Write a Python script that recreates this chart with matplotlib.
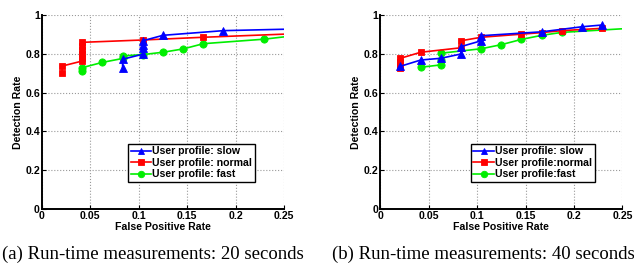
import matplotlib
matplotlib.use("Agg")
import matplotlib.pyplot as plt

# --- data (x = false positive rate, y = detection rate) ---
# points past x=0.25 only carry the line to the right edge (they get clipped)

# (a) 20 seconds
slow_20_x = [0.0833, 0.0833, 0.1042, 0.1042, 0.1042, 0.1042, 0.125, 0.1875, 0.2917]
slow_20_y = [0.724, 0.771, 0.797, 0.827, 0.846, 0.866, 0.894, 0.918, 0.930]
normal_20_x = [0.0208, 0.0208, 0.0417, 0.0417, 0.0417, 0.0417, 0.0417, 0.0417, 0.1042, 0.1667, 0.2917]
normal_20_y = [0.700, 0.736, 0.762, 0.780, 0.800, 0.820, 0.840, 0.858, 0.870, 0.884, 0.908]
fast_20_x = [0.0417, 0.0417, 0.0625, 0.0833, 0.0833, 0.1042, 0.125, 0.1458, 0.1667, 0.2292, 0.2917]
fast_20_y = [0.712, 0.728, 0.755, 0.775, 0.788, 0.795, 0.807, 0.824, 0.851, 0.874, 0.910]

# (b) 40 seconds
slow_40_x = [0.0208, 0.0417, 0.0625, 0.0833, 0.0833, 0.1042, 0.1042, 0.1667, 0.2083, 0.2292]
slow_40_y = [0.735, 0.767, 0.776, 0.798, 0.836, 0.866, 0.892, 0.912, 0.938, 0.947]
normal_40_x = [0.0208, 0.0208, 0.0208, 0.0208, 0.0417, 0.0833, 0.0833, 0.1042, 0.1458, 0.1667, 0.1875, 0.2292]
normal_40_y = [0.724, 0.740, 0.758, 0.776, 0.807, 0.830, 0.866, 0.884, 0.900, 0.908, 0.918, 0.930]
fast_40_x = [0.0417, 0.0625, 0.0625, 0.0625, 0.1042, 0.125, 0.1458, 0.1667, 0.1875, 0.2917]
fast_40_y = [0.730, 0.742, 0.767, 0.802, 0.825, 0.846, 0.873, 0.894, 0.909, 0.940]

x_ticks = [0, 0.05, 0.1, 0.15, 0.2, 0.25]
x_tick_labels = ["0", "0.05", "0.1", "0.15", "0.2", "0.25"]
y_ticks = [0, 0.2, 0.4, 0.6, 0.8, 1.0]
y_tick_labels = ["0", "0.2", "0.4", "0.6", "0.8", "1"]

legend_20 = ["User profile: slow", "User profile: normal", "User profile: fast"]
legend_40 = ["User profile: slow", "User profile:normal", "User profile:fast"]
captions = ["(a) Run-time measurements: 20 seconds", "(b) Run-time measurements: 40 seconds"]

FONT = "Liberation Sans"
FS = 7.6


def draw_panel(ax, series, labels, legend_x):
    # colour, marker, size, zorder (green under red under blue)
    styles = [("#0000ff", "^", 5.2, 4), ("#ff0000", "s", 4.2, 3), ("#00ee00", "o", 5.2, 2)]
    for (xs, ys), label, (c, m, ms, z) in zip(series, labels, styles):
        ax.plot(xs, ys, color=c, marker=m, markersize=ms, markeredgecolor=c,
                markeredgewidth=0.6, linewidth=1.2, label=label, zorder=z)

    ax.set_xlim(0, 0.25)
    ax.set_ylim(0, 1)
    ax.set_xticks(x_ticks)
    ax.set_xticklabels(x_tick_labels)
    ax.set_yticks(y_ticks)
    ax.set_yticklabels(y_tick_labels)
    ax.grid(True, linestyle=":", color="#999999", linewidth=0.8)
    ax.set_axisbelow(True)

    for s in ["top", "right"]:
        ax.spines[s].set_visible(False)
    for s in ["left", "bottom"]:
        ax.spines[s].set_linewidth(1.4)
    ax.tick_params(direction="in", length=3, width=0.8, pad=1.5)
    for t in ax.get_xticklabels() + ax.get_yticklabels():
        t.set_fontfamily(FONT)
        t.set_fontweight("bold")
        t.set_fontsize(FS)

    ax.set_xlabel("False Positive Rate", fontfamily=FONT, fontweight="bold", fontsize=FS, labelpad=0.5)
    ax.set_ylabel("Detection Rate", fontfamily=FONT, fontweight="bold", fontsize=FS, labelpad=1.5)

    leg = ax.legend(loc="lower left", bbox_to_anchor=(legend_x, 0.14), borderaxespad=0,
                    fancybox=False, framealpha=1, edgecolor="black",
                    prop={"family": FONT, "weight": "bold", "size": FS},
                    handlelength=1.9, handletextpad=0.15, borderpad=0.25,
                    labelspacing=0.15, markerscale=0.9)
    leg.get_frame().set_linewidth(1.0)
    leg.set_zorder(10)


fig = plt.figure(figsize=(6.34, 2.72), dpi=100)
ax1 = fig.add_axes([0.0662, 0.2305, 0.3817, 0.7155])
ax2 = fig.add_axes([0.5999, 0.2305, 0.3817, 0.7155])

draw_panel(ax1, [(slow_20_x, slow_20_y), (normal_20_x, normal_20_y), (fast_20_x, fast_20_y)],
           legend_20, 0.355)
draw_panel(ax2, [(slow_40_x, slow_40_y), (normal_40_x, normal_40_y), (fast_40_x, fast_40_y)],
           legend_40, 0.374)

fig.text(0.003, 0.066, captions[0], fontfamily="Liberation Serif", fontsize=13.5, ha="left", va="center")
fig.text(0.524, 0.066, captions[1], fontfamily="Liberation Serif", fontsize=13.5, ha="left", va="center")

fig.savefig("out.png", dpi=100)
